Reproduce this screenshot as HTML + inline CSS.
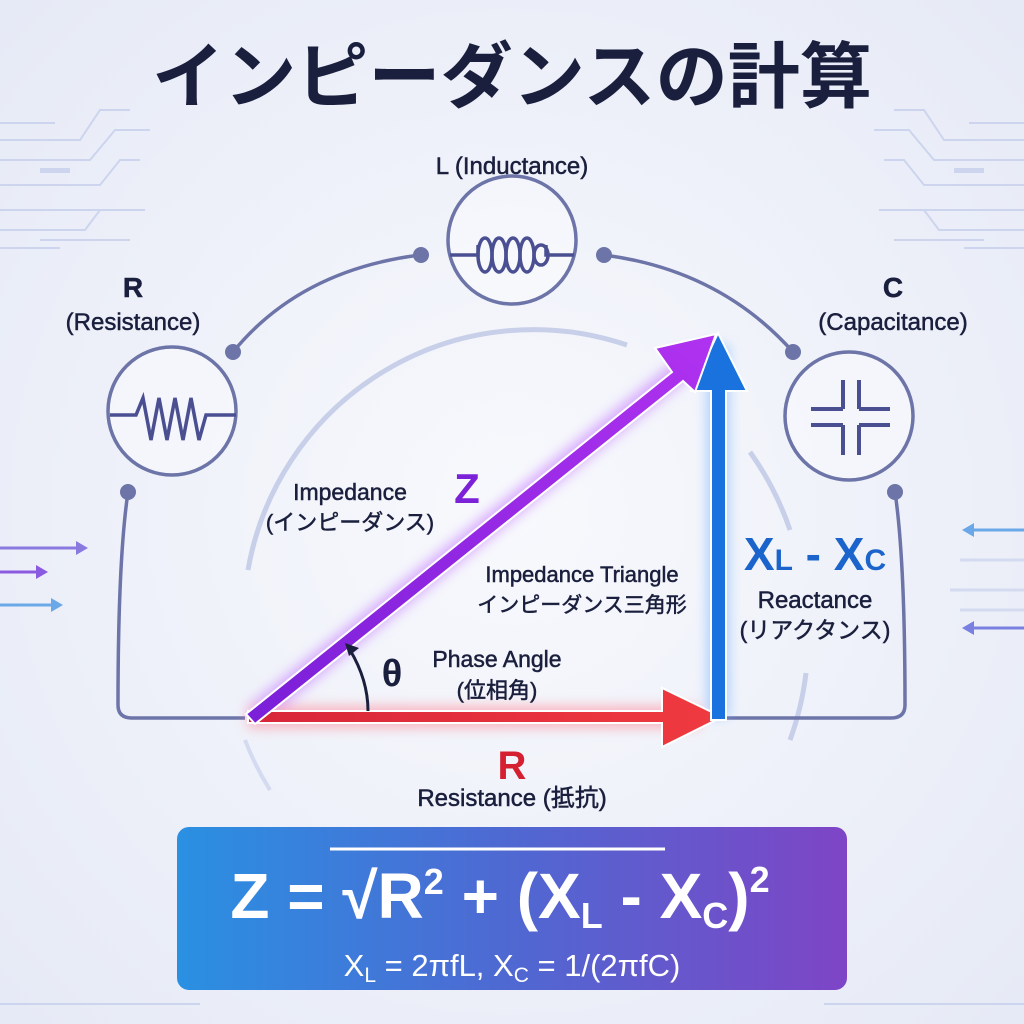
<!DOCTYPE html>
<html><head><meta charset="utf-8"><style>
html,body{margin:0;padding:0;width:1024px;height:1024px;overflow:hidden;}
svg{display:block}
text{font-family:"Liberation Sans","Noto Sans CJK JP",sans-serif;}
</style></head><body>
<svg width="1024" height="1024" viewBox="0 0 1024 1024" xmlns="http://www.w3.org/2000/svg">
<defs>
<radialGradient id="bg" cx="50%" cy="50%" r="70%">
<stop offset="0" stop-color="#f8f9fd"/><stop offset="1" stop-color="#e6eaf6"/>
</radialGradient>
<linearGradient id="fb" x1="0" y1="0" x2="1" y2="0">
<stop offset="0" stop-color="#2a90e2"/><stop offset="0.5" stop-color="#4f68d2"/><stop offset="1" stop-color="#7e45c6"/>
</linearGradient>
<linearGradient id="pz" x1="0" y1="1" x2="1" y2="0">
<stop offset="0" stop-color="#7a1fd8"/><stop offset="1" stop-color="#b032f0"/>
</linearGradient>
<linearGradient id="rl" x1="0" y1="0" x2="1" y2="0">
<stop offset="0" stop-color="#d8263a"/><stop offset="1" stop-color="#f03a40"/>
</linearGradient>
<filter id="glow" x="-20%" y="-20%" width="140%" height="140%"><feGaussianBlur stdDeviation="6"/></filter>
</defs>
<rect width="1024" height="1024" fill="url(#bg)"/>
<g stroke="#cdd5ee" stroke-width="2" fill="none">
<path d="M0 123 H55 M0 140 H80 L100 110 H130 M0 160 H90 L115 130 H150 M0 185 H100 L120 160 H140 M0 210 H110 M0 230 H85 L100 210 H145 M0 248 H60 M40 240 H130"/>
<path d="M1024 123 H969 M1024 140 H944 L924 110 H894 M1024 160 H934 L909 130 H874 M1024 185 H924 L904 160 H884 M1024 210 H914 M1024 230 H939 L924 210 H879 M1024 248 H964 M984 240 H894"/>
<path d="M0 1004 H200 M824 1004 H1024"/>
</g>
<g fill="#cdd5ee"><rect x="40" y="168" width="30" height="5"/><rect x="954" y="168" width="30" height="5"/></g>
<g stroke-width="3" fill="none">
<path d="M0 548 H80" stroke="#8a7ae0"/><path d="M0 572 H40" stroke="#8a5ae0"/><path d="M0 605 H55" stroke="#6aa8e8"/>
<path d="M970 530 H1024" stroke="#6aa8e8"/><path d="M970 628 H1024" stroke="#7a80e0"/>
<path d="M950 590 H1024 M960 560 H1024 M960 610 H1024" stroke="#d4dbf1"/>
</g>
<g><path d="M88 548 l-12 -7 v14z" fill="#8a7ae0"/><path d="M48 572 l-12 -7 v14z" fill="#8a5ae0"/><path d="M63 605 l-12 -7 v14z" fill="#6aa8e8"/>
<path d="M962 530 l12 -7 v14z" fill="#6aa8e8"/><path d="M962 628 l12 -7 v14z" fill="#7a80e0"/></g>
<text x="512" y="102" text-anchor="middle" font-size="72" font-weight="bold" fill="#1a1f3d" textLength="720" lengthAdjust="spacingAndGlyphs">インピーダンスの計算</text>
<path d="M248 570 A290 290 0 0 1 627 345" stroke="#c8cfe9" stroke-width="5" fill="none"/>
<path d="M750 452 A300 300 0 0 1 790 530" stroke="#c8cfe9" stroke-width="5" fill="none"/>
<path d="M806 673 A300 300 0 0 1 790 740" stroke="#c8cfe9" stroke-width="5" fill="none"/>
<path d="M245 740 A290 290 0 0 0 270 790" stroke="#d4daf0" stroke-width="4" fill="none"/>
<g stroke="#6c74a8" stroke-width="3.5" fill="none">
<path d="M233 352 Q300 270 420 255"/>
<path d="M604 255 Q720 270 793 352"/>
<path d="M128 492 Q118 560 118 705 Q118 718 132 718 H245"/>
<path d="M895 492 Q905 560 905 705 Q905 718 891 718 H722"/>
</g>
<g fill="#6c74a8"><circle cx="233" cy="352" r="8"/><circle cx="421" cy="255" r="8"/><circle cx="604" cy="255" r="8"/><circle cx="793" cy="352" r="8"/><circle cx="128" cy="492" r="8"/><circle cx="895" cy="492" r="8"/></g>
<g stroke="#6c74a8" stroke-width="3.5" fill="rgba(255,255,255,0.35)">
<circle cx="512" cy="240" r="64"/><circle cx="172" cy="411" r="64"/><circle cx="849" cy="416" r="64"/>
</g>
<g stroke="#4a4f92" stroke-width="3.5" fill="none">
<path d="M450 255 H478 V245 M546 245 V255 H574"/>
<ellipse cx="485" cy="255" rx="7" ry="17"/><ellipse cx="499" cy="255" rx="7" ry="17"/><ellipse cx="513" cy="255" rx="7" ry="17"/><ellipse cx="527" cy="255" rx="7" ry="17"/><ellipse cx="541" cy="255" rx="7" ry="10"/>
<path d="M110 415 H136 L143 398 L151 440 L159 398 L167 440 L175 398 L183 440 L191 398 L199 440 L206 415 H236"/>
<path d="M811 409 H843 M859 409 H890 M811 425 H843 M859 425 H890 M843 380 V409 M859 380 V409 M843 425 V455 M859 425 V455" stroke-width="4"/>
</g>
<g fill="#1a1f3d" stroke="#1a1f3d" stroke-width="0.5">
<text x="512" y="174" text-anchor="middle" font-size="24">L (Inductance)</text>
<text x="133" y="297" text-anchor="middle" font-size="28" font-weight="bold">R</text>
<text x="133" y="330" text-anchor="middle" font-size="24">(Resistance)</text>
<text x="893" y="297" text-anchor="middle" font-size="28" font-weight="bold">C</text>
<text x="893" y="330" text-anchor="middle" font-size="24">(Capacitance)</text>
</g>
<g filter="url(#glow)" opacity="0.55">
<path d="M252 717 L700 355" stroke="#c070ff" stroke-width="22"/>
<path d="M248 717 H700" stroke="#ff8090" stroke-width="22"/>
<path d="M718 717 V345" stroke="#70b0ff" stroke-width="22"/>
</g>
<path d="M248 711 H662 V688 L722 717 L662 747 V723 H248 Z" fill="url(#rl)" stroke="#fff" stroke-width="2"/>
<path d="M711 720 V391 H691 L718 333 L747 391 H726 V720 Z" fill="#1a72de" stroke="#fff" stroke-width="2"/>
<path d="M246 714 L672 372 L655 348 L716 334 L695 392 L683 381 L255 724 Z" fill="url(#pz)" stroke="#fff" stroke-width="2"/>
<path d="M368 711 Q368 680 350 650" stroke="#1a1f3d" stroke-width="3" fill="none"/>
<path d="M345 643 l14 5 l-10 8z" fill="#1a1f3d"/>
<g fill="#1a1f3d" stroke="#1a1f3d" stroke-width="0.5">
<text x="350" y="500" text-anchor="middle" font-size="23">Impedance</text>
<text x="350" y="530" text-anchor="middle" font-size="22">(インピーダンス)</text>
<text x="582" y="582" text-anchor="middle" font-size="22">Impedance Triangle</text>
<text x="582" y="612" text-anchor="middle" font-size="21">インピーダンス三角形</text>
<text x="497" y="667" text-anchor="middle" font-size="23">Phase Angle</text>
<text x="497" y="698" text-anchor="middle" font-size="22">(位相角)</text>
<text x="815" y="608" text-anchor="middle" font-size="24">Reactance</text>
<text x="815" y="638" text-anchor="middle" font-size="23">(リアクタンス)</text>
<text x="512" y="806" text-anchor="middle" font-size="24">Resistance (抵抗)</text>
</g>
<text x="392" y="686" text-anchor="middle" font-size="38" font-weight="bold" fill="#1a1f3d">θ</text>
<text x="467" y="503" text-anchor="middle" font-size="42" font-weight="bold" fill="#7b22d8">Z</text>
<text x="815" y="570" text-anchor="middle" font-size="46" font-weight="bold" fill="#1a64cc">X<tspan font-size="30">L</tspan> - X<tspan font-size="30">C</tspan></text>
<text x="512" y="779" text-anchor="middle" font-size="40" font-weight="bold" fill="#d42030">R</text>
<rect x="177" y="827" width="670" height="163" rx="12" fill="url(#fb)"/>
<path d="M330 849 H665" stroke="#fff" stroke-width="3"/>
<text x="500" y="918" text-anchor="middle" font-size="64" font-weight="bold" fill="#fff">Z = √R<tspan font-size="36" dy="-24">2</tspan><tspan dy="24"> + (X</tspan><tspan font-size="36" dy="10">L</tspan><tspan dy="-10"> - X</tspan><tspan font-size="36" dy="10">C</tspan><tspan dy="-10">)</tspan><tspan font-size="36" dy="-26">2</tspan></text>
<text x="512" y="976" text-anchor="middle" font-size="31" fill="#fff">X<tspan font-size="21" dy="6">L</tspan><tspan dy="-6"> = 2πfL, X</tspan><tspan font-size="21" dy="6">C</tspan><tspan dy="-6"> = 1/(2πfC)</tspan></text>
</svg>
</body></html>
